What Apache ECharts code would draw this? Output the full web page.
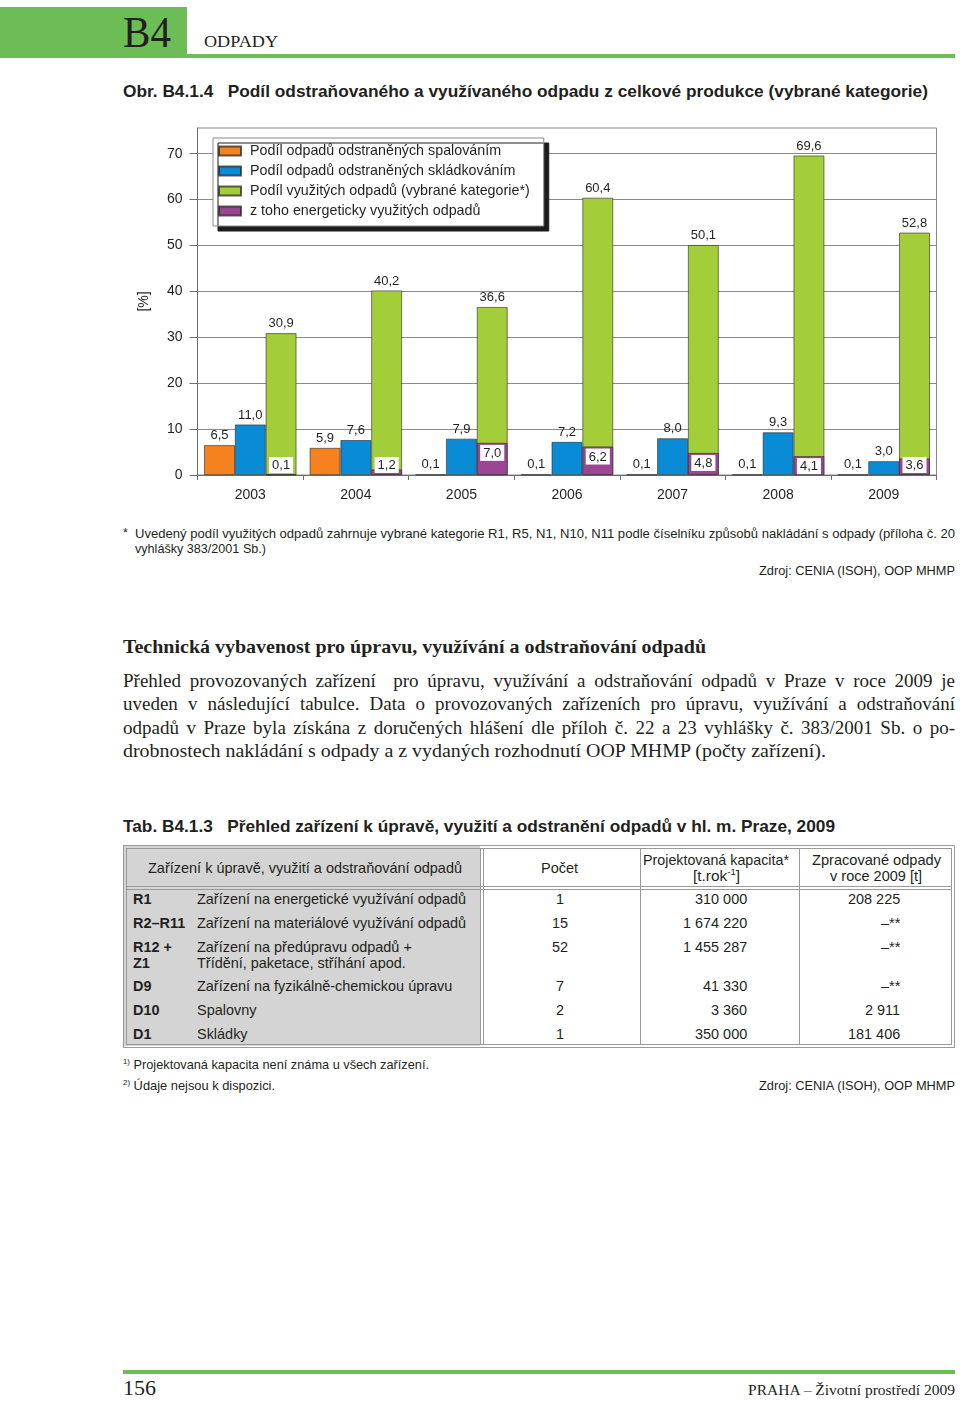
<!DOCTYPE html>
<html><head><meta charset="utf-8">
<script src="https://cdn.jsdelivr.net/npm/echarts@6/dist/echarts.min.js"></script>
<style>
html,body{margin:0;padding:0;background:#fff;}
body{width:960px;height:1402px;position:relative;overflow:hidden;color:#231f20;}
.t{position:absolute;white-space:nowrap;display:inline-block;}
.r{position:absolute;}
#chart{position:absolute;left:120px;top:120px;width:840px;height:400px;}
</style></head>
<body>
<div class="r" style="left:0;top:7px;width:187px;height:51px;background:#6cbd56"></div>
<div class="r" style="left:187px;top:54px;width:768px;height:4px;background:#6cbd56"></div>
<div class="r" style="left:123px;top:1370px;width:832px;height:4px;background:#6cbd56"></div>
<div id="chart"></div>
<script>
// ---------- chart data ----------
const years = ['2003','2004','2005','2006','2007','2008','2009'];
const seriesNames = ['Podíl odpadů odstraněných spalováním','Podíl odpadů odstraněných skládkováním','Podíl využitých odpadů (vybrané kategorie*)','z toho energeticky využitých odpadů'];
const spalovani   = [6.5, 5.9, 0.1, 0.1, 0.1, 0.1, 0.1];
const skladkovani = [11.0, 7.6, 7.9, 7.2, 8.0, 9.3, 3.0];
const vyuziti     = [30.9, 40.2, 36.6, 60.4, 50.1, 69.6, 52.8];
const energeticky = [0.1, 1.2, 7.0, 6.2, 4.8, 4.1, 3.6];
const yTicks = [0, 10, 20, 30, 40, 50, 60, 70];

const SANS = '"Liberation Sans", Arial, Helvetica, sans-serif';
const SERIF = '"Liberation Serif", "Times New Roman", serif';
const colors = ['#f5821f', '#0a8bd6', '#a3cd39', '#9b4693'];
const fmt = v => v.toFixed(1).replace('.', ',');

const chart = echarts.init(document.getElementById('chart'), null, {renderer:'canvas'});
const barBase = (i) => ({
  type: 'bar', name: seriesNames[i], barGap: '0%', barCategoryGap: '12.5%',
  itemStyle: {color: colors[i], borderColor: 'rgba(40,40,40,0.75)', borderWidth: 0.8},
  label: {show: true, position: 'top', distance: 3, formatter: p => fmt(p.value),
          fontFamily: SANS, fontSize: 13, color: '#231f20'}
});
const purpleData = energeticky.map(v => ({
  value: v,
  label: v * 4.59 < 18 ? {position: 'insideBottom', distance: 2} : {position: 'insideTop', distance: 2}
}));
const option = {
  animation: false,
  textStyle: {fontFamily: SANS},
  grid: {left: 77.5, right: 23.5, top: 8, bottom: 45, show: true, borderColor: '#8a8a8a', borderWidth: 1, containLabel: false},
  legend: {
    data: seriesNames, orient: 'vertical', left: 93, top: 18,
    icon: 'rect',
    itemWidth: 22, itemHeight: 9, itemGap: 6,
    padding: [6, 14, 8, 5],
    backgroundColor: '#fff', borderColor: '#8a8a8a', borderWidth: 1,
    shadowColor: '#1c1c1c', shadowBlur: 0, shadowOffsetX: 5, shadowOffsetY: 5,
    textStyle: {fontFamily: SANS, fontSize: 14.3, color: '#231f20', lineHeight: 14, padding: [0,0,0,4]},
    selectedMode: false
  },
  xAxis: [{
    type: 'category', data: years,
    axisLine: {lineStyle: {color: '#6d6d6d'}},
    axisTick: {show: true, length: 5, lineStyle: {color: '#6d6d6d'}},
    axisLabel: {fontFamily: SANS, fontSize: 14, color: '#231f20', margin: 13}
  }, {
    type: 'category', data: years, show: false
  }],
  yAxis: {
    type: 'value', min: 0, max: 75.6, interval: 10,
    name: '[%]', nameLocation: 'middle', nameRotate: 90, nameGap: 46,
    nameTextStyle: {fontFamily: SANS, fontSize: 14, color: '#231f20'},
    axisLine: {show: true, lineStyle: {color: '#6d6d6d'}},
    axisTick: {show: true, length: 8, lineStyle: {color: '#6d6d6d'}, customValues: yTicks},
    axisLabel: {fontFamily: SANS, fontSize: 14, color: '#231f20', margin: 15, customValues: yTicks},
    splitLine: {show: true, lineStyle: {color: '#8a8a8a', width: 1}}
  },
  series: [
    Object.assign(barBase(0), {data: spalovani}),
    Object.assign(barBase(1), {data: skladkovani}),
    Object.assign(barBase(2), {data: vyuziti}),
    {type: 'bar', name: '_slot1', xAxisIndex: 1, data: [], barGap: '0%', barCategoryGap: '12.5%'},
    {type: 'bar', name: '_slot2', xAxisIndex: 1, data: [], barGap: '0%', barCategoryGap: '12.5%'},
    Object.assign(barBase(3), {xAxisIndex: 1, data: purpleData,
      label: {show: true, formatter: p => fmt(p.value), fontFamily: SANS, fontSize: 13, color: '#231f20',
              backgroundColor: '#fff', padding: [2, 3, 1, 3]}})
  ]
};
chart.setOption(option);

// ---------- page text ----------
function T(html, x, y, o) {
  o = o || {};
  const s = o.s || 14;
  const d = document.createElement('div');
  d.className = 't';
  d.innerHTML = html;
  d.style.font = (o.b ? 'bold ' : '') + s + 'px ' + (o.f || SANS);
  d.style.lineHeight = s + 'px';
  d.style.color = o.c || '#231f20';
  document.body.appendChild(d);
  const nat = d.getBoundingClientRect().width;
  const a = o.a || 'l';
  d.style.top = (y - s / 2) + 'px';
  if (o.j && o.w && nat <= o.w) {
    d.style.whiteSpace = 'normal';
    d.style.width = o.w + 'px';
    d.style.textAlign = 'justify';
    d.style.textAlignLast = 'justify';
    d.style.left = x + 'px';
    return d;
  }
  const k = o.w ? o.w / nat : (o.k || 1);
  const left = a === 'l' ? x : a === 'r' ? x - nat * k : x - nat * k / 2;
  d.style.left = left + 'px';
  d.style.transformOrigin = '0 50%';
  d.style.transform = 'scaleX(' + k + ')';
  return d;
}
// condensed factor from a reference string
const TS = 14.5;
const probe = T('Zařízení na energetické využívání odpadů', -2000, -100, {s: TS});
const K = 269 / probe.getBoundingClientRect().width;
probe.remove();

// header
T('B4', 123, 33, {s: 44, f: SERIF, w: 48});
T('ODPADY', 204, 41, {s: 17, f: SERIF, w: 74});
T('Obr. B4.1.4&nbsp;&nbsp;&nbsp;Podíl odstraňovaného a využívaného odpadu z celkové produkce (vybrané kategorie)', 123, 91, {s: 17, b: true, w: 805});

// chart notes
T('*', 123, 533, {s: 12.5});
T('Uvedený podíl využitých odpadů zahrnuje vybrané kategorie R1, R5, N1, N10, N11 podle číselníku způsobů nakládání s odpady (příloha č. 20', 135, 533, {s: 13, w: 820});
T('vyhlášky 383/2001 Sb.)', 135, 548, {s: 13, w: 131});
T('Zdroj: CENIA (ISOH), OOP MHMP', 955, 570, {s: 13, a: 'r', w: 196});

// section text
T('Technická vybavenost pro úpravu, využívání a odstraňování odpadů', 123, 646, {s: 19, b: true, f: SERIF, w: 583});
T('Přehled provozovaných zařízení&nbsp; pro úpravu, využívání a odstraňování odpadů v Praze v roce 2009 je', 123, 680, {s: 19, f: SERIF, w: 832, j: true});
T('uveden v následující tabulce. Data o provozovaných zařízeních pro úpravu, využívání a odstraňování', 123, 703, {s: 19, f: SERIF, w: 832, j: true});
T('odpadů v Praze byla získána z doručených hlášení dle příloh č. 22 a 23 vyhlášky č. 383/2001 Sb. o po-', 123, 727, {s: 19, f: SERIF, w: 832, j: true});
T('drobnostech nakládání s odpady a z vydaných rozhodnutí OOP MHMP (počty zařízení).', 123, 750, {s: 19, f: SERIF, w: 703});

// table caption
T('Tab. B4.1.3&nbsp;&nbsp;&nbsp;Přehled zařízení k úpravě, využití a odstranění odpadů v hl. m. Praze, 2009', 123, 826, {s: 17, b: true, w: 712});

// table geometry (decoration)
function R(x, y, w, h, bg) { const d = document.createElement('div'); d.className = 'r'; d.style.cssText = `left:${x}px;top:${y}px;width:${w}px;height:${h}px;background:${bg}`; document.body.appendChild(d); }
R(124, 846, 356, 200, '#d4d4d4');
const LC = '#9a9a9a';
R(123, 845, 832, 1, LC); R(123, 1047, 832, 1, LC); R(123, 845, 1, 203, LC); R(954, 845, 1, 203, LC);
R(126, 848, 826, 1, LC); R(126, 1044, 826, 1, LC); R(126, 848, 1, 197, LC); R(951, 848, 1, 197, LC);
R(126, 886, 826, 1, LC); R(126, 889, 826, 1, LC);
R(480, 848, 1, 197, LC); R(483, 848, 1, 197, LC);
R(640, 848, 1, 197, LC); R(799, 848, 1, 197, LC);

// table header
T('Zařízení k úpravě, využití a odstraňování odpadů', 305, 868, {s: TS, a: 'c', w: 314});
T('Počet', 559, 868, {s: TS, a: 'c', w: 37});
T('Projektovaná kapacita*', 716, 860, {s: TS, a: 'c', w: 146});
T('[t.rok<sup style="font-size:9px;line-height:0">-1</sup>]', 716, 876, {s: TS, a: 'c', w: 47});
T('Zpracované odpady', 876, 860, {s: TS, a: 'c', w: 129});
T('v roce 2009 [t]', 876, 876, {s: TS, a: 'c', w: 92});

// table body data
const tCodes = ['R1', 'R2–R11', 'R12 +', 'D9', 'D10', 'D1'];
const tNames = ['Zařízení na energetické využívání odpadů', 'Zařízení na materiálové využívání odpadů', 'Zařízení na předúpravu odpadů +', 'Zařízení na fyzikálně-chemickou úpravu', 'Spalovny', 'Skládky'];
const tCount = ['1', '15', '52', '7', '2', '1'];
const tCap = ['310 000', '1 674 220', '1 455 287', '41 330', '3 360', '350 000'];
const tDone = ['208 225', '–**', '–**', '–**', '2 911', '181 406'];
const rowY = [899, 923, 947, 986, 1010, 1034];
for (let i = 0; i < tCodes.length; i++) {
  const y = rowY[i];
  T(tCodes[i], 133, y, {s: TS, b: true, k: K});
  T(tNames[i], 197, y, {s: TS, k: K});
  T(tCount[i], 560, y, {s: TS, a: 'c', k: K});
  T(tCap[i], 747, y, {s: TS, a: 'r', k: K});
  T(tDone[i], 900, y, {s: TS, a: 'r', k: K});
}
T('Z1', 133, 963, {s: TS, b: true, k: K});
T('Třídění, paketace, stříhání apod.', 197, 963, {s: TS, k: K});

// table notes
T('<sup style="font-size:8px;line-height:0">1)</sup> Projektovaná kapacita není známa u všech zařízení.', 123, 1064, {s: 13, w: 306});
T('<sup style="font-size:8px;line-height:0">2)</sup> Údaje nejsou k dispozici.', 123, 1085, {s: 13, w: 152});
T('Zdroj: CENIA (ISOH), OOP MHMP', 955, 1085, {s: 13, a: 'r', w: 196});

// footer
T('156', 123, 1388, {s: 21, f: SERIF, w: 33});
T('PRAHA – Životní prostředí 2009', 955, 1390, {s: 15, f: SERIF, a: 'r', w: 207});
</script>
</body></html>
